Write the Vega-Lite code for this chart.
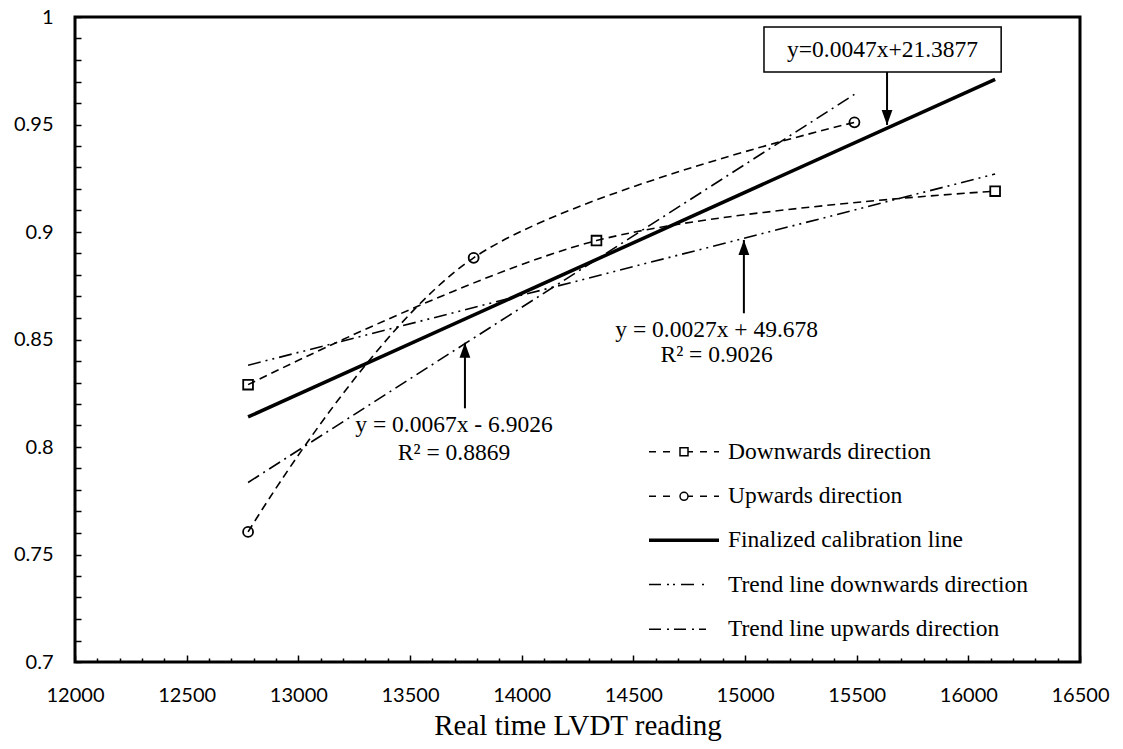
{
  "$schema": "https://vega.github.io/schema/vega-lite/v6.json",
  "width": 1005,
  "height": 645,
  "autosize": "none",
  "padding": {"left": 75, "top": 17, "right": 43, "bottom": 87},
  "background": "white",
  "config": {
    "view": {"stroke": "black", "strokeWidth": 3},
    "axis": {"domain": false, "grid": false, "tickColor": "black", "tickWidth": 1.5, "labelColor": "black", "labelFont": "Lato", "labelFontSize": 20}
  },
  "datasets": {
    "pts": [
      {"series": "Downwards direction", "x": 12775, "y": 0.829},
      {"series": "Downwards direction", "x": 14335, "y": 0.896},
      {"series": "Downwards direction", "x": 16120, "y": 0.919},
      {"series": "Upwards direction", "x": 12775, "y": 0.7605},
      {"series": "Upwards direction", "x": 13785, "y": 0.888},
      {"series": "Upwards direction", "x": 15490, "y": 0.951}
    ],
    "lines": [
      {"series": "Finalized calibration line", "x": 12775, "y": 0.814},
      {"series": "Finalized calibration line", "x": 16120, "y": 0.971},
      {"series": "Trend line downwards direction", "x": 12775, "y": 0.838},
      {"series": "Trend line downwards direction", "x": 16120, "y": 0.927},
      {"series": "Trend line upwards direction", "x": 12775, "y": 0.7835},
      {"series": "Trend line upwards direction", "x": 15490, "y": 0.964}
    ],
    "arrows": [
      {"x": 15636, "y": 0.9744, "tip": 0.9498},
      {"x": 13746, "y": 0.818, "tip": 0.8485},
      {"x": 14995, "y": 0.8622, "tip": 0.8963}
    ],
    "heads": [
      {"x": 15636, "y": 0.9498, "dir": "down"},
      {"x": 13746, "y": 0.8485, "dir": "up"},
      {"x": 14995, "y": 0.8963, "dir": "up"}
    ],
    "box": [
      {"x": 15085, "x2": 16147, "y": 0.9744, "y2": 0.9953}
    ],
    "labels": [
      {"x": 15616, "y": 0.9845, "text": "y=0.0047x+21.3877"},
      {"x": 13697, "y": 0.8102, "text": "y = 0.0067x - 6.9026"},
      {"x": 13697, "y": 0.7973, "text": "R² = 0.8869"},
      {"x": 14873, "y": 0.8544, "text": "y = 0.0027x + 49.678"},
      {"x": 14873, "y": 0.8428, "text": "R² = 0.9026"}
    ],
    "legend": [
      {"series": "Downwards direction"},
      {"series": "Upwards direction"},
      {"series": "Finalized calibration line"},
      {"series": "Trend line downwards direction"},
      {"series": "Trend line upwards direction"}
    ]
  },
  "encoding": {
    "x": {"field": "x", "type": "quantitative", "scale": {"domain": [12000, 16500], "nice": false, "zero": false},
      "axis": {
        "title": "Real time LVDT reading",
        "titleFont": "Liberation Serif", "titleFontSize": 29, "titleFontWeight": "normal", "titleColor": "black", "titlePadding": 3,
        "values": [12000,12100,12200,12300,12400,12500,12600,12700,12800,12900,13000,13100,13200,13300,13400,13500,13600,13700,13800,13900,14000,14100,14200,14300,14400,14500,14600,14700,14800,14900,15000,15100,15200,15300,15400,15500,15600,15700,15800,15900,16000,16100,16200,16300,16400,16500],
        "labelExpr": "datum.value % 500 === 0 ? format(datum.value, 'd') : ''",
        "tickSize": {"condition": {"test": "datum.value % 500 === 0", "value": -7}, "value": -4},
        "labelPadding": 30, "labelFlush": false, "labelOverlap": false, "labelBound": false
      }},
    "y": {"field": "y", "type": "quantitative", "scale": {"domain": [0.7, 1], "nice": false, "zero": false},
      "axis": {
        "title": null,
        "values": [0.7,0.71,0.72,0.73,0.74,0.75,0.76,0.77,0.78,0.79,0.8,0.81,0.82,0.83,0.84,0.85,0.86,0.87,0.88,0.89,0.9,0.91,0.92,0.93,0.94,0.95,0.96,0.97,0.98,0.99,1],
        "labelExpr": "round(datum.value * 100) % 5 === 0 ? '' + datum.value : ''",
        "tickSize": -6,
        "labelPadding": 28, "labelOverlap": false, "labelBound": false
      }}
  },
  "layer": [
    {
      "data": {"name": "pts"},
      "transform": [{"filter": "datum.series === 'Downwards direction'"}],
      "mark": {"type": "line", "interpolate": "cardinal", "color": "black", "strokeWidth": 1.6, "strokeDash": [8, 5]}
    },
    {
      "data": {"name": "pts"},
      "transform": [{"filter": "datum.series === 'Upwards direction'"}],
      "mark": {"type": "line", "interpolate": "cardinal", "color": "black", "strokeWidth": 1.6, "strokeDash": [8, 5]}
    },
    {
      "data": {"name": "lines"},
      "transform": [{"filter": "datum.series === 'Finalized calibration line'"}],
      "mark": {"type": "line", "color": "black", "strokeWidth": 3.5}
    },
    {
      "data": {"name": "lines"},
      "transform": [{"filter": "datum.series === 'Trend line downwards direction'"}],
      "mark": {"type": "line", "color": "black", "strokeWidth": 1.6, "strokeDash": [13, 5, 2, 5, 2, 5]}
    },
    {
      "data": {"name": "lines"},
      "transform": [{"filter": "datum.series === 'Trend line upwards direction'"}],
      "mark": {"type": "line", "color": "black", "strokeWidth": 1.6, "strokeDash": [13, 5, 2, 5]}
    },
    {
      "data": {"name": "pts"},
      "transform": [{"filter": "datum.series === 'Downwards direction'"}],
      "mark": {"type": "point", "shape": "square", "filled": false, "color": "black", "strokeWidth": 1.8, "size": 95, "opacity": 1}
    },
    {
      "data": {"name": "pts"},
      "transform": [{"filter": "datum.series === 'Upwards direction'"}],
      "mark": {"type": "point", "shape": "circle", "filled": false, "color": "black", "strokeWidth": 1.8, "size": 100, "opacity": 1}
    },
    {
      "data": {"name": "arrows"},
      "mark": {"type": "rule", "color": "black", "strokeWidth": 2},
      "encoding": {"y2": {"field": "tip"}}
    },
    {
      "data": {"name": "heads"},
      "transform": [{"filter": "datum.dir === 'down'"}],
      "mark": {"type": "point", "shape": "M0,0L-0.36,-1L0.36,-1Z", "filled": true, "color": "black", "size": 900, "opacity": 1}
    },
    {
      "data": {"name": "heads"},
      "transform": [{"filter": "datum.dir === 'up'"}],
      "mark": {"type": "point", "shape": "M0,0L-0.36,1L0.36,1Z", "filled": true, "color": "black", "size": 900, "opacity": 1}
    },
    {
      "data": {"name": "box"},
      "mark": {"type": "rect", "fill": "white", "stroke": "black", "strokeWidth": 1.5},
      "encoding": {"x2": {"field": "x2"}, "y2": {"field": "y2"}}
    },
    {
      "data": {"name": "labels"},
      "mark": {"type": "text", "font": "Liberation Serif", "fontSize": 23.5, "align": "center", "baseline": "middle", "color": "black"},
      "encoding": {"text": {"field": "text"}}
    },
    {
      "data": {"name": "legend"},
      "mark": {"type": "point", "filled": false, "color": "black", "opacity": 0},
      "encoding": {
        "shape": {"field": "series", "type": "nominal",
          "scale": {"domain": ["Downwards direction", "Upwards direction", "Finalized calibration line", "Trend line downwards direction", "Trend line upwards direction"],
            "range": [
              "M-3.5,0H-2.8M-2.1,0H-1.4M-0.4,-0.4H0.4V0.4H-0.4ZM0.4,0H0.9M1.6,0H2.3M3,0H3.5",
              "M-3.5,0H-2.8M-2.1,0H-1.4M0.4,0A0.4,0.4 0 1 1 -0.4,0A0.4,0.4 0 1 1 0.4,0M0.4,0H0.9M1.6,0H2.3M3,0H3.5",
              "M-3.5,0H3.5",
              "M-3.5,0H-2.3M-1.7,0H-1.5M-1.1,0H-0.9M-0.3,0H1.0M1.8,0H2.0",
              "M-3.5,0H-2.3M-1.7,0H-1.5M-1.0,0H0.2M0.8,0H1.0M1.5,0H2.2"
            ]},
          "legend": {"title": null, "orient": "none", "legendX": 597, "legendY": 423, "symbolSize": 400,
            "labelFont": "Liberation Serif", "labelFontSize": 23.5, "labelColor": "black", "labelLimit": 600, "labelOffset": 32,
            "rowPadding": 19.6, "padding": 0, "symbolFillColor": "transparent", "symbolStrokeColor": "black", "symbolOpacity": 1,
            "encode": {"symbols": {"update": {"opacity": {"value": 1}}}}}},
        "strokeWidth": {"field": "series", "type": "nominal",
          "scale": {"type": "ordinal", "domain": ["Downwards direction", "Upwards direction", "Finalized calibration line", "Trend line downwards direction", "Trend line upwards direction"],
            "range": [1.5, 1.5, 3.5, 1.5, 1.5]},
          "legend": {"title": null, "orient": "none", "legendX": 597, "legendY": 423, "symbolSize": 400,
            "labelFont": "Liberation Serif", "labelFontSize": 23.5, "labelColor": "black", "labelLimit": 600, "labelOffset": 32,
            "rowPadding": 19.6, "padding": 0, "symbolFillColor": "transparent", "symbolStrokeColor": "black", "symbolOpacity": 1,
            "encode": {"symbols": {"update": {"opacity": {"value": 1}}}}}}
      }
    }
  ]
}
